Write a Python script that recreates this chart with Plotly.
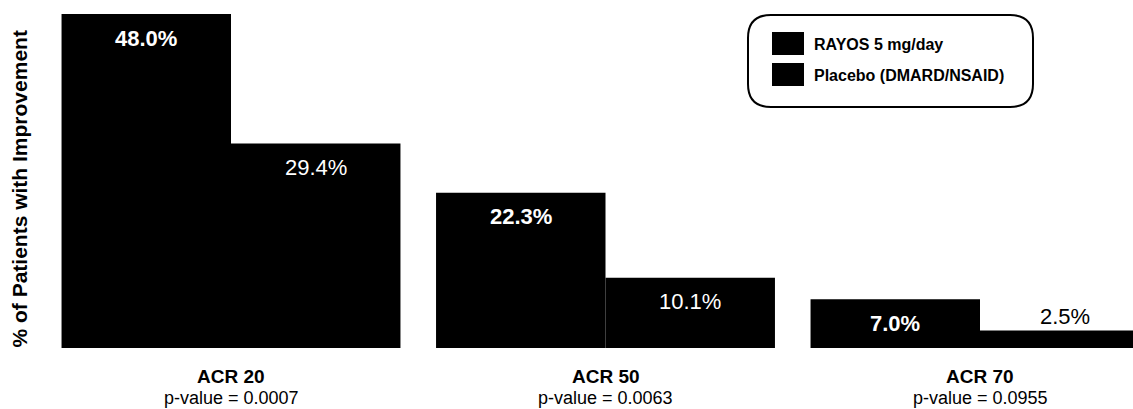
import plotly.graph_objects as go

categories = ["ACR 20", "ACR 50", "ACR 70"]
p_values = ["p-value = 0.0007", "p-value = 0.0063", "p-value = 0.0955"]
series_names = ["RAYOS 5 mg/day", "Placebo (DMARD/NSAID)"]
rayos = [48.0, 22.3, 7.0]
placebo = [29.4, 10.1, 2.5]
y_title = "% of Patients with Improvement"

FONT = "Liberation Sans, Arial, Helvetica, sans-serif"
OFF = 0  # body margin removed by post_script
PAGE_W, PAGE_H = 1133, 409
W, H = PAGE_W - OFF, PAGE_H - OFF
# plot area in page pixels
PL, PR, PT, PB = 50, 1133, 14, 348
ML, MR, MT, MB = PL - OFF, PAGE_W - PR, PT - OFF, PAGE_H - PB
PW, PH = PR - PL, PB - PT
UNIT = 374.5
BARGAP = 0.095
x0 = -(231 - PL) / UNIT
x1 = x0 + PW / UNIT

def px(x):
    return (x - PL) / PW

def py(y):
    return (PB - y) / PH

xs = list(range(len(categories)))
fig = go.Figure()
for vals, name in zip([rayos, placebo], series_names):
    fig.add_trace(go.Bar(x=xs, y=vals, name=name, marker=dict(color="#000000", line=dict(width=0)),
                         showlegend=False, hoverinfo="skip"))

off = (1 - BARGAP) / 4
annotations = []
for i in xs:
    for k, (vals, sign) in enumerate([(rayos, -1), (placebo, 1)]):
        v = vals[i]
        inside = v >= 5
        txt = f"{v:.1f}%"
        if k == 0:
            txt = f"<b>{txt}</b>"
        annotations.append(dict(x=i + sign * off, y=v, xref="x", yref="y", text=txt, showarrow=False,
                                yanchor="middle", yshift=-24 if inside else 14,
                                font=dict(family=FONT, size=22, color="#ffffff" if inside else "#000000")))
    annotations.append(dict(x=i, y=py(376), xref="x", yref="paper", text=f"<b>{categories[i]}</b>",
                            showarrow=False, yanchor="middle",
                            font=dict(family=FONT, size=19, color="#000000")))
    annotations.append(dict(x=i, y=py(397.5), xref="x", yref="paper", text=p_values[i],
                            showarrow=False, yanchor="middle",
                            font=dict(family=FONT, size=18, color="#000000")))

annotations.append(dict(x=px(19), y=py(189.5), xref="paper", yref="paper", text=f"<b>{y_title}</b>",
                        textangle=-90, showarrow=False, xanchor="center", yanchor="middle",
                        font=dict(family=FONT, size=21, color="#000000")))

# legend box
L, R, T, B, r = 748, 1033, 15, 107, 23
path = (f"M {px(L+r)},{py(T)} L {px(R-r)},{py(T)} Q {px(R)},{py(T)} {px(R)},{py(T+r)} "
        f"L {px(R)},{py(B-r)} Q {px(R)},{py(B)} {px(R-r)},{py(B)} "
        f"L {px(L+r)},{py(B)} Q {px(L)},{py(B)} {px(L)},{py(B-r)} "
        f"L {px(L)},{py(T+r)} Q {px(L)},{py(T)} {px(L+r)},{py(T)} Z")
shapes = [dict(type="path", xref="paper", yref="paper", path=path, line=dict(color="#000000", width=2),
               fillcolor="rgba(0,0,0,0)")]
rows = [(32, 55, 44), (63, 86, 75)]
for (t, b, c), name in zip(rows, series_names):
    shapes.append(dict(type="rect", xref="paper", yref="paper", x0=px(772), x1=px(804), y0=py(b), y1=py(t),
                       fillcolor="#000000", line=dict(width=0)))
    annotations.append(dict(x=px(812), y=py(c), xref="paper", yref="paper", text=f"<b>{name}</b>",
                            showarrow=False, xanchor="left", yanchor="middle",
                            font=dict(family=FONT, size=16, color="#000000")))

fig.update_layout(
    width=W, height=H, margin=dict(l=ML, r=MR, t=MT, b=MB),
    paper_bgcolor="#ffffff", plot_bgcolor="#ffffff",
    barmode="group", bargap=BARGAP, bargroupgap=0,
    xaxis=dict(range=[x0, x1], showticklabels=False, showgrid=False, zeroline=False, showline=False, ticks=""),
    yaxis=dict(range=[0, 48], showticklabels=False, showgrid=False, zeroline=False, showline=False, ticks=""),
    annotations=annotations, shapes=shapes, showlegend=False,
)
fig.write_html("out.html", config={"displayModeBar": False},
               post_script="document.body.style.margin='0px';document.body.style.overflow='hidden';")
